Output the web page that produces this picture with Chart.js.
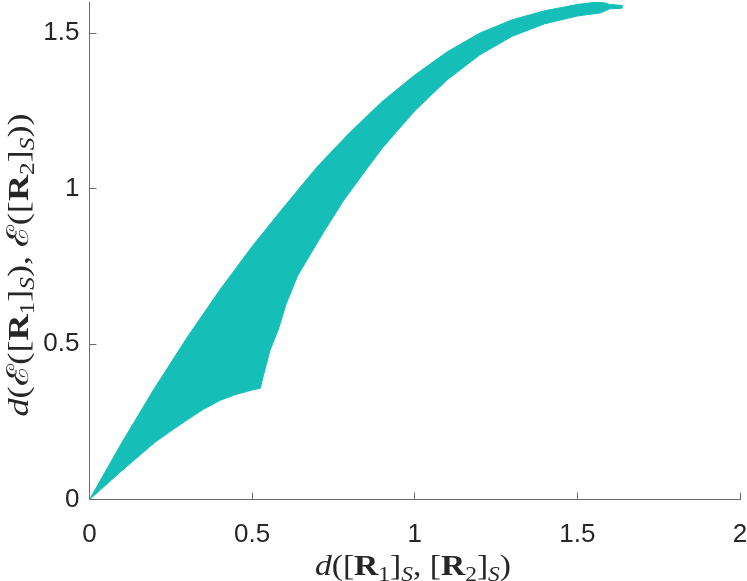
<!DOCTYPE html>
<html>
<head>
<meta charset="utf-8">
<script src="https://cdn.jsdelivr.net/npm/chart.js@4.4.1/dist/chart.umd.min.js"></script>
<style>
  body { margin: 0; background: #fff; }
</style>
</head>
<body>
<canvas id="scatter" width="747" height="581"></canvas>
<script>
// upper edge of the point cloud
const upperX = [0, 0.1, 0.2, 0.3, 0.4, 0.5, 0.6, 0.7, 0.8, 0.9, 1.0, 1.1, 1.2, 1.3, 1.4, 1.5, 1.57, 1.6, 1.637];
const upperY = [0, 0.184, 0.358, 0.521, 0.673, 0.814, 0.944, 1.07, 1.18, 1.28, 1.365, 1.44, 1.5, 1.543, 1.572, 1.592, 1.601, 1.592, 1.589];
// lower edge of the point cloud
const lowerX = [0, 0.1, 0.2, 0.25, 0.3, 0.35, 0.4, 0.45, 0.5, 0.525, 0.535, 0.545, 0.555, 0.58, 0.605, 0.64, 0.68, 0.72, 0.78, 0.85, 0.9, 1.0, 1.1, 1.2, 1.3, 1.4, 1.5, 1.57, 1.6, 1.637];
const lowerY = [0, 0.093, 0.183, 0.22, 0.256, 0.29, 0.318, 0.338, 0.352, 0.358, 0.4, 0.44, 0.48, 0.545, 0.63, 0.72, 0.79, 0.86, 0.96, 1.06, 1.13, 1.25, 1.35, 1.43, 1.49, 1.53, 1.555, 1.565, 1.578, 1.58];

const xTicks = [0, 0.5, 1, 1.5, 2];
const yTicks = [0, 0.5, 1, 1.5];

const xTitle = [["d", "i"], ["(["], ["R", "b"], ["1", "s"], ["]"], ["S", "si"], [", ["], ["R", "b"], ["2", "s"], ["]"], ["S", "si"], [")"]];
const yTitle = [["d", "i"], ["("], ["ℰ"], ["(["], ["R", "b"], ["1", "s"], ["]"], ["S", "si"], ["), "], ["ℰ"], ["(["], ["R", "b"], ["2", "s"], ["]"], ["S", "si"], ["))"]];

const teal = "#15bfb8";
const tickFont = { family: '"Liberation Sans", Arial, sans-serif', size: 26 };

// closed outline: along the top, back along the bottom
const outline = upperX.map((x, i) => ({ x: x, y: upperY[i] }))
  .concat(lowerX.map((x, i) => ({ x: x, y: lowerY[i] })).reverse());

const mathFont = '"Liberation Serif", "DejaVu Serif", serif';
function partFont(p, size) {
  const style = p[1] || "";
  const sz = style.indexOf("s") === 0 ? size * 0.7 : size;
  return (style.indexOf("i") >= 0 ? "italic " : "") + (style === "b" ? "bold " : "") + sz + "px " + mathFont;
}

function drawMath(ctx, parts, size, cx, cy, width, rotate) {
  ctx.save();
  let total = 0;
  const widths = parts.map((p) => {
    ctx.font = partFont(p, size);
    const w = ctx.measureText(p[0]).width;
    total += w;
    return w;
  });
  ctx.translate(cx, cy);
  if (rotate) ctx.rotate(-Math.PI / 2);
  ctx.scale(width / total, 1);
  ctx.fillStyle = "#262626";
  ctx.textBaseline = "alphabetic";
  let x = -total / 2;
  parts.forEach((p, i) => {
    ctx.font = partFont(p, size);
    const sub = (p[1] || "").indexOf("s") === 0;
    ctx.fillText(p[0], x, sub ? size * 0.2 : 0);
    x += widths[i];
  });
  ctx.restore();
}

const axisTitles = {
  id: "axisTitles",
  afterDraw(chart) {
    const ctx = chart.ctx;
    drawMath(ctx, xTitle, 30, 413, 575, 196, false);
    drawMath(ctx, yTitle, 30, 28, 265, 303, true);
  },
};

function axis(min, max, ticks, pad, fit) {
  return {
    type: "linear",
    min: min,
    max: max,
    afterBuildTicks: (s) => { s.ticks = ticks.map((v) => ({ value: v })); },
    afterFit: (s) => {
      fit(s);
      s.paddingTop = 0;
      s.paddingBottom = 0;
      s.paddingLeft = 0;
      s.paddingRight = 0;
    },
    border: { display: true, color: "#6b6b6b", width: 1 },
    grid: { drawOnChartArea: false, color: "#6b6b6b", tickLength: -7 },
    ticks: { font: tickFont, color: "#262626", padding: pad, callback: (v) => String(v) },
  };
}

new Chart(document.getElementById("scatter"), {
  type: "scatter",
  data: {
    datasets: [
      {
        data: outline,
        showLine: true,
        fill: "shape",
        backgroundColor: teal,
        borderColor: teal,
        borderWidth: 1,
        pointRadius: 0,
        tension: 0,
      },
    ],
  },
  options: {
    responsive: false,
    animation: false,
    layout: { padding: { top: 2, right: 7, left: 0, bottom: 0 } },
    plugins: { legend: { display: false }, tooltip: { enabled: false } },
    scales: {
      x: axis(0, 2, xTicks, 27, (s) => { s.height = 81.5; }),
      y: axis(0, 1.6, yTicks, 17, (s) => { s.width = 89.5; }),
    },
  },
  plugins: [axisTitles],
});
</script>
</body>
</html>
